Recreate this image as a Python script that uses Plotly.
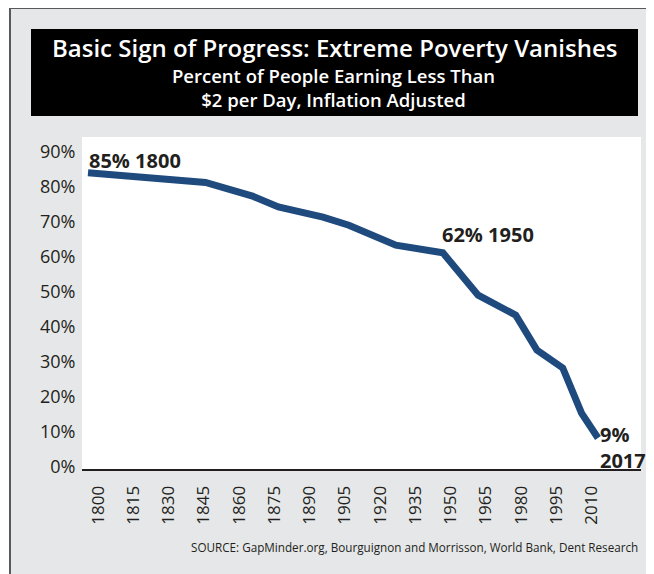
import plotly.graph_objects as go

years = [1800, 1825, 1839, 1850, 1870, 1881, 1900, 1911, 1931, 1951, 1966, 1982, 1991, 2002, 2010, 2017]
poverty_pct = [84.1, 82.9, 82.3, 81.3, 77.4, 74.3, 71.4, 69.1, 63.4, 61.2, 49.1, 43.4, 33.4, 28.3, 15.4, 8.3]

tick_years = list(range(1800, 2011, 15))
tick_pcts = [0, 10, 20, 30, 40, 50, 60, 70, 80, 90]
tick_pct_labels = ["0%", "10%", "20%", "30%", "40%", "50%", "60%", "70%", "80%", "90%"]

title = "Basic Sign of Progress: Extreme Poverty Vanishes"
subtitle = "Percent of People Earning Less Than<br>$2 per Day, Inflation Adjusted"
source = "SOURCE: GapMinder.org, Bourguignon and Morrisson, World Bank, Dent Research"

# the page body has an 8px margin, so the figure is drawn 8px smaller and
# every pixel position below is given in window coordinates
OFF = 8
W, H = 654 - OFF, 574 - OFF
L, R, T, B = 82, 641, 137, 469   # plot area, window pixels
TXT = "#231f20"
FONT = "Open Sans"


def px(x):
	return (x - L) / (R - L)


def py(y):
	return (B - y) / (B - T)


fig = go.Figure()
fig.add_trace(go.Scatter(x=years, y=poverty_pct, mode="lines",
	line=dict(color="#1f4a7e", width=7), hoverinfo="skip", showlegend=False))

shapes = [
	# grey outer frame
	dict(type="rect", xref="paper", yref="paper", x0=px(10), x1=px(649), y0=py(600), y1=py(8),
		fillcolor="#e6e7e8", line=dict(color="#58595b", width=2), layer="below"),
	# black title box
	dict(type="rect", xref="paper", yref="paper", x0=px(31), x1=px(638), y0=py(116), y1=py(29),
		fillcolor="black", line=dict(width=0), layer="below"),
	# white plot area
	dict(type="rect", xref="paper", yref="paper", x0=0, x1=1, y0=0, y1=1,
		fillcolor="white", line=dict(width=0), layer="below"),
]

annotations = [
	dict(text=title, x=px(334), y=py(47.5), font=dict(size=24, color="white", weight=600)),
	dict(text=subtitle, x=px(333), y=py(87.5), font=dict(size=18.5, color="white", weight=600)),
	dict(text=source, x=px(640), y=py(547), xanchor="right", font=dict(size=11.7, color=TXT)),
]
for a in annotations:
	a.update(xref="paper", yref="paper", showarrow=False, yanchor="middle")
	a.setdefault("xanchor", "center")
	a["font"]["family"] = FONT

# value labels on the line
labels = [
	("<b>85% 1800</b>", 1799.5, 87.7),
	("<b>62% 1950</b>", 1949.8, 66.3),
	("<b>9%<br>2017</b>", 2016.8, 5.6),
]
for text, x, y in labels:
	annotations.append(dict(text=text, x=x, y=y, xref="x", yref="y", xanchor="left", yanchor="middle",
		align="left", showarrow=False, font=dict(family=FONT, size=20, color=TXT)))

fig.update_layout(
	width=W, height=H,
	margin=dict(l=L - OFF, r=654 - R, t=T - OFF, b=574 - B, pad=0),
	paper_bgcolor="white", plot_bgcolor="rgba(0,0,0,0)",
	shapes=shapes, annotations=annotations,
	font=dict(family=FONT, color=TXT),
)
fig.update_xaxes(range=[1797.45, 2035.3], tickvals=tick_years, tickangle=-90,
	ticks="outside", ticklen=8, tickcolor="rgba(0,0,0,0)", ticklabelshift=10,
	tickfont=dict(size=17, color=TXT), showgrid=False, zeroline=False,
	showline=True, linecolor="#231f20", linewidth=2)
fig.update_yaxes(range=[-0.57, 94.3], tickvals=tick_pcts, ticktext=tick_pct_labels,
	ticks="outside", ticklen=2, tickcolor="rgba(0,0,0,0)",
	tickfont=dict(size=18, color=TXT), showgrid=False, zeroline=False)

fig.write_html("out.html")
